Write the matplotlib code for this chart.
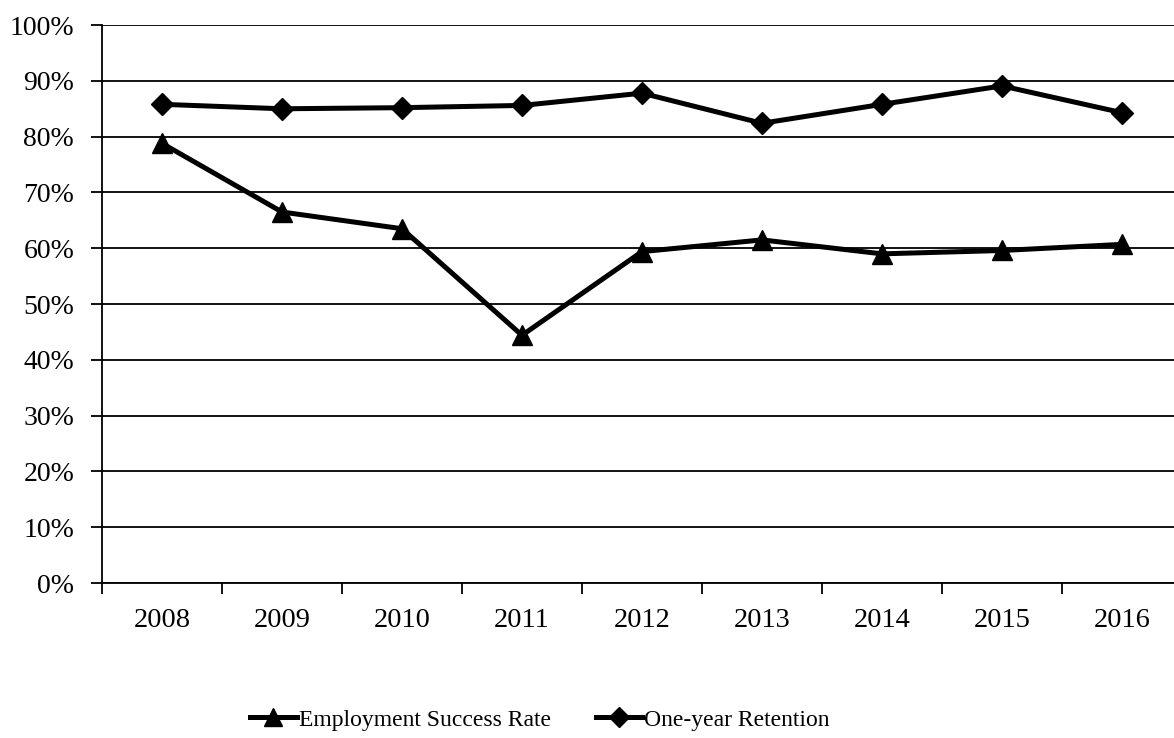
import matplotlib

matplotlib.use("Agg")
import matplotlib.pyplot as plt
from matplotlib.ticker import FixedLocator, PercentFormatter

plt.rcParams["font.family"] = ["Liberation Serif", "DejaVu Serif"]

years = ["2008", "2009", "2010", "2011", "2012", "2013", "2014", "2015", "2016"]
employment_success = [78.8, 66.5, 63.5, 44.4, 59.4, 61.5, 59.0, 59.6, 60.7]
one_year_retention = [85.8, 85.0, 85.2, 85.6, 87.8, 82.4, 85.8, 89.1, 84.3]

fig = plt.figure(figsize=(11.74, 7.38), dpi=100)
ax = fig.add_axes([0.0869, 0.21, 0.9199, 0.756])

x = list(range(len(years)))
ax.plot(x, employment_success, color="black", linewidth=3.6, marker="^", markersize=15,
        label="Employment Success Rate", zorder=3)
ax.plot(x, one_year_retention, color="black", linewidth=3.6, marker="D", markersize=11.5,
        label="One-year Retention", zorder=3)

ax.set_xlim(-0.5, len(years) - 0.5)
ax.set_ylim(0, 100)
ax.set_yticks(range(0, 101, 10))
ax.yaxis.set_major_formatter(PercentFormatter(decimals=0))
ax.set_xticks(x)
ax.set_xticklabels(years)
ax.xaxis.set_minor_locator(FixedLocator([i - 0.5 for i in range(len(years) + 1)]))
ax.tick_params(axis="x", which="major", length=0, pad=18, labelsize=20.5)
ax.tick_params(axis="x", which="minor", length=8, width=1.3, direction="out")
ax.tick_params(axis="y", length=8, width=1.3, direction="out", labelsize=20, pad=12)

ax.grid(True, axis="y", color="black", linewidth=1.3)
ax.set_axisbelow(True)
for side in ("top", "right"):
    ax.spines[side].set_visible(False)
for side in ("left", "bottom"):
    ax.spines[side].set_linewidth(1.3)

ax.legend(loc="center", bbox_to_anchor=(0.4056, -0.2455), ncol=2, frameon=False,
          fontsize=17, handlelength=1.95, handletextpad=0.1, columnspacing=1.9,
          borderaxespad=0, markerscale=0.85)

fig.savefig("out.png", dpi=100)
plt.close(fig)
